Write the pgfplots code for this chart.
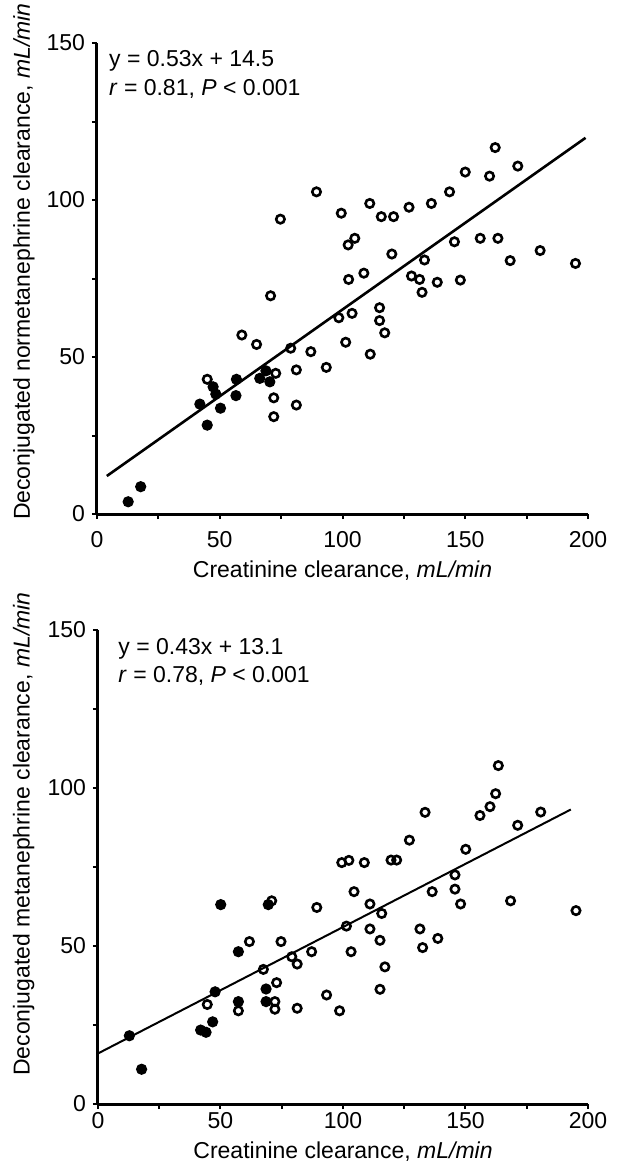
\documentclass[border=0pt]{standalone}
\usepackage{fontspec}
\setmainfont{Liberation Sans}
\usepackage{pgfplots}
\pgfplotsset{compat=1.18}

\pgfplotstableread{
x y
89.4 102.6
74.7 93.9
99.5 95.8
111.1 98.9
115.8 94.7
120.8 94.7
127.1 97.7
136.2 98.9
143.6 102.6
105 87.8
102.3 85.7
120.1 82.8
133.4 80.9
108.7 76.7
102.5 74.7
128.1 75.8
131.4 74.7
132.4 70.6
138.6 73.8
70.7 69.5
115.1 65.7
115.1 61.6
117.2 57.7
103.9 63.9
98.5 62.5
59 57
65 54
78.9 52.8
87.1 51.7
101.3 54.7
111.3 50.9
81.2 45.9
93.4 46.7
72.8 44.8
72 37
81.2 34.7
72 31
162.2 116.7
171.4 110.8
150 108.9
159.9 107.6
145.6 86.7
156.1 87.8
163.3 87.8
168.3 80.7
180.5 83.9
194.9 79.8
148 74.5
44.9 42.9
}\topopen

\pgfplotstableread{
x y
12.7 3.9
17.8 8.7
41.9 35.0
44.9 28.3
47.3 40.5
48.4 38.2
50.3 33.7
56.8 42.9
56.6 37.7
66.3 43.2
68.8 45.6
70.4 42.1
}\topfilled

\pgfplotstableread{
x y
70.9 64.3
89.3 62.2
99.5 76.4
102.4 77.1
61.8 51.4
74.7 51.4
87.2 48.2
79.1 46.6
81.3 44.3
67.5 42.6
72.9 38.4
72.2 32.4
72.2 30.0
57.3 29.5
81.3 30.3
93.3 34.5
98.6 29.5
44.6 31.5
101.4 56.3
103.3 48.2
104.5 67.2
163.4 107.1
162.3 98.2
160 94.1
155.9 91.3
180.7 92.4
171.3 88.2
133.5 92.3
127.1 83.5
150.1 80.6
108.7 76.4
119.6 77.2
121.9 77.2
111 63.3
115.8 60.3
111 55.4
131.4 55.4
138.7 52.4
136.4 67.2
145.7 72.5
145.7 68.0
148 63.3
168.4 64.3
195.1 61.2
115.1 51.8
132.5 49.5
117.1 43.4
115.1 36.3
}\botopen

\pgfplotstableread{
x y
50.1 63.1
69.5 63.1
57.3 48.2
47.8 35.5
68.6 36.4
57.3 32.4
68.6 32.4
46.8 26.0
41.9 23.4
44.1 22.7
12.8 21.6
17.8 11.0
}\botfilled

\pgfplotsset{
  myax/.style={
    scale only axis,
    xmin=0, xmax=200, ymin=0, ymax=150,
    axis x line=bottom, axis y line=left,
    axis line style={-, line width=1.5pt, black},
    xtick={0,50,...,200}, minor xtick={25,75,125,175},
    ytick={0,50,100,150}, minor ytick={25,75,125},
    tick align=outside,
    major tick length=2.5pt, minor tick length=2.5pt,
    every tick/.style={line width=1pt, black},
    /pgf/number format/assume math mode=true,
    ticklabel style={font=\fontsize{11.5}{13}\selectfont},
    label style={font=\fontsize{11.5}{13}\selectfont},
    xlabel={Creatinine clearance, \textit{mL/min}},
    clip=false,
  },
  openmk/.style={only marks, mark=o, mark size=2.1pt, mark options={line width=1.3pt, draw=black}},
  fillmk/.style={only marks, mark=*, mark size=2.5pt, mark options={line width=0.6pt, draw=black, fill=black}},
}

\begin{document}
\begin{tikzpicture}
\path[use as bounding box] (0,0) rectangle (313pt,-584.5pt);

\begin{axis}[myax, at={(48.5pt,-257pt)}, anchor=south west,
  width=245.5pt, height=235.5pt,
  ylabel={Deconjugated normetanephrine clearance, \textit{mL/min}},
  xticklabel style={yshift=-2.5pt},
  xlabel style={at={(axis description cs:0.5,0)}, anchor=base, yshift=-31.5pt},
  ylabel style={at={(axis description cs:-0.126,1.085)}, anchor=south east, inner sep=0pt},
]
\addplot[black, line width=1.3pt] coordinates {(4,12.1) (199,119.8)};
\addplot[openmk] table {\topopen};
\addplot[fillmk] table {\topfilled};
\node[anchor=north west, inner sep=0pt, align=left, font=\fontsize{11.5}{14.6}\selectfont]
  at (rel axis cs:0.024,0.985) {y = 0.53x + 14.5\\\textit{r} = 0.81, \textit{P} < 0.001};
\end{axis}

\begin{axis}[myax, at={(49pt,-552pt)}, anchor=south west,
  width=245pt, height=237pt,
  ylabel={Deconjugated metanephrine clearance, \textit{mL/min}},
  xticklabel style={yshift=2pt},
  xlabel style={at={(axis description cs:0.5,0)}, anchor=base, yshift=-27pt},
  ylabel style={at={(axis description cs:-0.129,1.080)}, anchor=south east, inner sep=0pt},
]
\addplot[black, line width=1pt] coordinates {(0,16) (193,93.2)};
\addplot[openmk] table {\botopen};
\addplot[fillmk] table {\botfilled};
\node[anchor=north west, inner sep=0pt, align=left, font=\fontsize{11.5}{14.2}\selectfont]
  at (rel axis cs:0.041,0.984) {y = 0.43x + 13.1\\\textit{r} = 0.78, \textit{P} < 0.001};
\end{axis}
\end{tikzpicture}
\end{document}
